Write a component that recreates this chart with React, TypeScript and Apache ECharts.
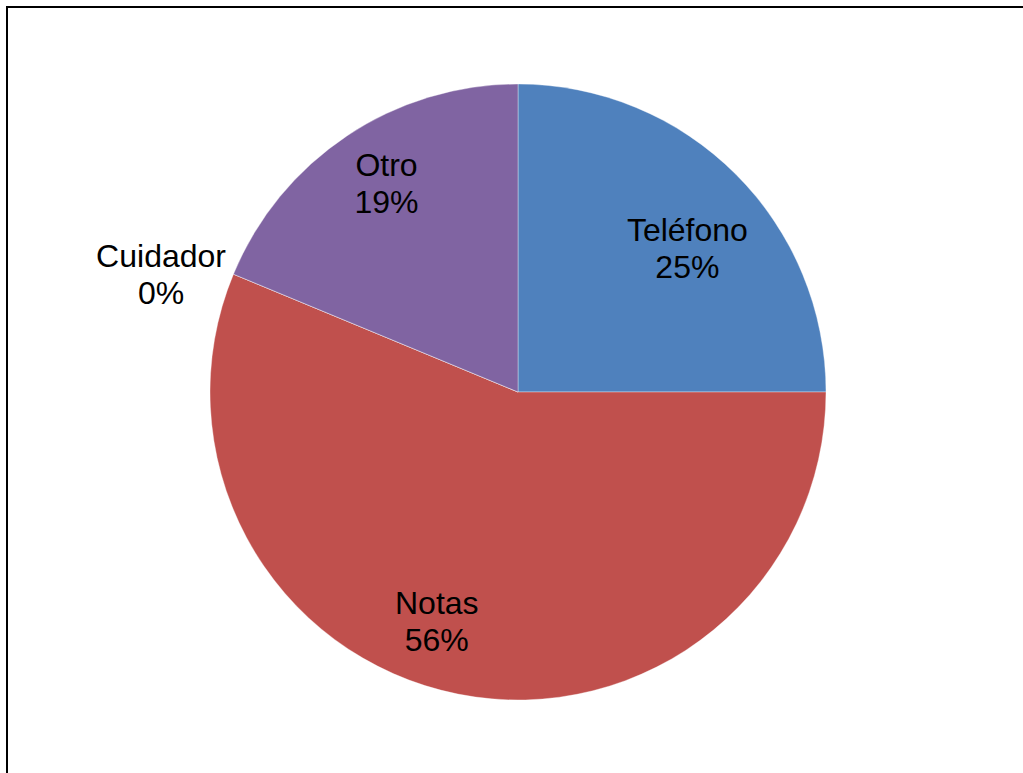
import React, { useEffect, useRef } from "react";
import * as echarts from "echarts";

const categories = ["Teléfono", "Notas", "Cuidador", "Otro"];
const values = [40, 90, 0, 30];
const colors = ["#4F81BD", "#C0504D", "#9BBB59", "#8064A2"];

// label placement (radial fraction of radius, angle offset in degrees from slice middle)
const labelRadial = [0.72, 0.79, 1.22, 0.8];
const labelAngleOffset = [4.8, 8.25, -4.3, 1.5];

const CX = 518;
const CY = 392;
const R = 308;

export default function App() {
  const ref = useRef<HTMLDivElement>(null);
  useEffect(() => {
    if (!ref.current) return;
    const chart = echarts.init(ref.current, undefined, { renderer: "svg" });
    const total = values.reduce((a, b) => a + b, 0);
    const mids: number[] = [];
    let acc = 0;
    values.forEach((v) => {
      const span = (v / total) * 360;
      mids.push(acc + span / 2);
      acc += span;
    });
    chart.setOption({
      animation: false,
      backgroundColor: "#ffffff",
      graphic: [
        {
          type: "line",
          shape: { x1: 7, y1: 7, x2: 1023, y2: 7 },
          style: { stroke: "#000", lineWidth: 2 },
          silent: true,
        },
        {
          type: "line",
          shape: { x1: 7, y1: 6, x2: 7, y2: 773 },
          style: { stroke: "#000", lineWidth: 2 },
          silent: true,
        },
      ],
      series: [
        {
          type: "pie",
          center: [CX, CY],
          radius: [0, R],
          startAngle: 90,
          clockwise: true,
          avoidLabelOverlap: false,
          percentPrecision: 0,
          minShowLabelAngle: 0,
          data: categories.map((name, i) => ({
            name,
            value: values[i],
            itemStyle: { color: colors[i] },
          })),
          itemStyle: { borderColor: "rgba(255,255,255,0.6)", borderWidth: 0.6 },
          label: {
            show: true,
            position: "inside",
            formatter: "{b}\n{d}%",
            color: "#000",
            fontFamily: "Liberation Sans, Arial, sans-serif",
            fontSize: 32,
            lineHeight: 37,
            align: "center",
          },
          labelLine: { show: false },
          emphasis: { disabled: true },
          labelLayout: (params: any) => {
            const i = params.dataIndex;
            const ang = ((mids[i] + labelAngleOffset[i]) * Math.PI) / 180;
            const rr = R * labelRadial[i];
            return {
              x: CX + rr * Math.sin(ang),
              y: CY - rr * Math.cos(ang),
              align: "center",
              verticalAlign: "middle",
            };
          },
        },
      ],
    });
    return () => chart.dispose();
  }, []);
  return (
    <div
      ref={ref}
      style={{ position: "absolute", left: 0, top: 0, width: 1023, height: 773 }}
    />
  );
}
